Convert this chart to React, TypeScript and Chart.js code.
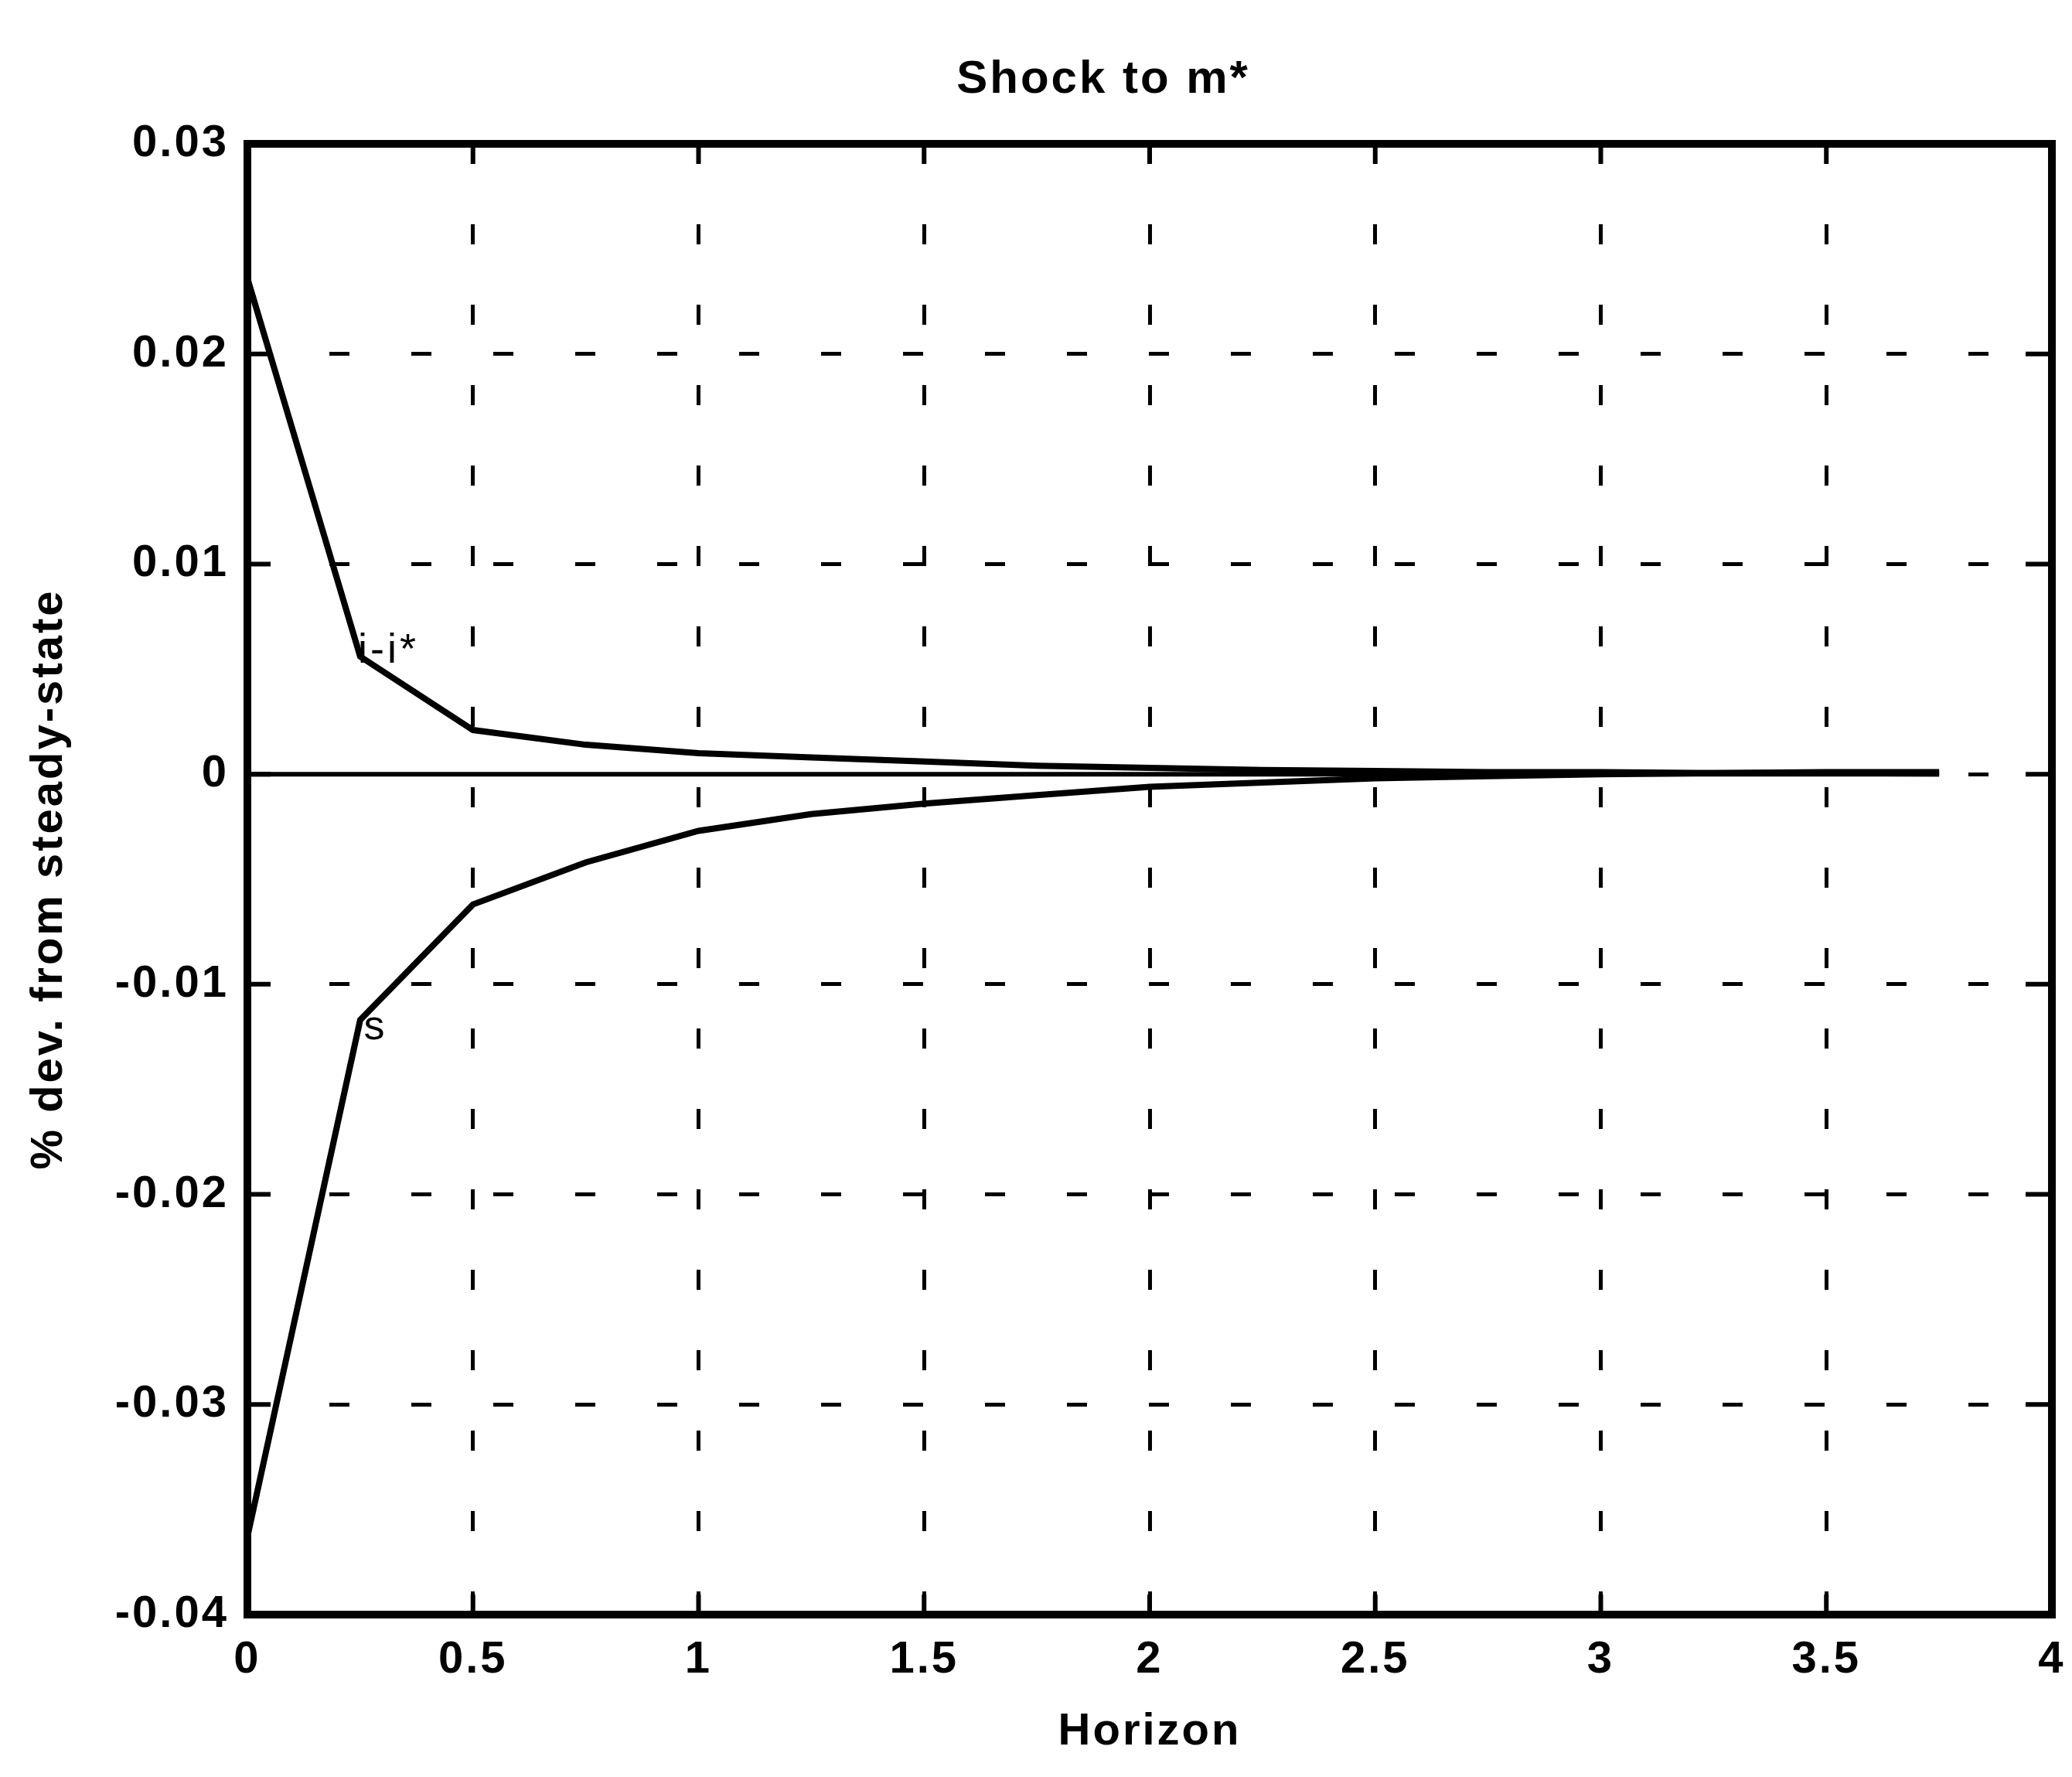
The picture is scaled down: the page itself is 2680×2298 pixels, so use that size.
import React, { useEffect, useRef } from 'react';
import { Chart, registerables } from 'chart.js';

Chart.register(...registerables);

// ---- data ----
const horizon = [0, 0.25, 0.5, 0.75, 1, 1.25, 1.5, 1.75, 2, 2.25, 2.5, 2.75, 3, 3.25, 3.5, 3.75];
const interestDiff = [0.0236, 0.0056, 0.0021, 0.0014, 0.001, 0.0008, 0.0006, 0.0004, 0.0003, 0.0002, 0.00015, 0.0001, 0.0001, 0.00005, 0.00005, 0.00003];
const exchangeRate = [-0.0363, -0.0117, -0.0062, -0.0042, -0.0027, -0.0019, -0.0014, -0.001, -0.0006, -0.0004, -0.0002, -0.0001, 0, 0.00005, 0.0001, 0.0001];
const steadyState = [0, 0, 0, 0, 0, 0, 0, 0, 0, 0, 0, 0, 0, 0, 0, 0];

const xTickValues = [0, 0.5, 1, 1.5, 2, 2.5, 3, 3.5, 4];
const xTickLabels = ['0', '0.5', '1', '1.5', '2', '2.5', '3', '3.5', '4'];
const yTickValues = [-0.04, -0.03, -0.02, -0.01, 0, 0.01, 0.02, 0.03];
const yTickLabels = ['-0.04', '-0.03', '-0.02', '-0.01', '0', '0.01', '0.02', '0.03'];

const titleText = 'Shock to m*';
const xTitle = 'Horizon';
const yTitle = '% dev. from steady-state';
const seriesLabels = ['i-i*', 's'];
const seriesLabelPos = [
  [0.245, 0.0053],
  [0.258, -0.0126],
];

const FONT = '"Liberation Sans", Arial, sans-serif';

const framePlugin = {
  id: 'frameAndText',
  beforeDraw(chart: any) {
    chart.ctx.letterSpacing = '3px';
  },
  afterDraw(chart: any) {
    const { ctx, chartArea, scales } = chart;
    const { left, right, top, bottom } = chartArea;
    const x = scales.x;
    const y = scales.y;
    ctx.save();
    ctx.strokeStyle = '#000';
    ctx.setLineDash([]);
    ctx.lineWidth = 10;
    ctx.strokeRect(left, top, right - left, bottom - top);
    ctx.lineWidth = 6;
    ctx.beginPath();
    for (const v of xTickValues) {
      const px = x.getPixelForValue(v);
      ctx.moveTo(px, bottom);
      ctx.lineTo(px, bottom - 26);
      ctx.moveTo(px, top);
      ctx.lineTo(px, top + 26);
    }
    for (const v of yTickValues) {
      const py = y.getPixelForValue(v);
      ctx.moveTo(left, py);
      ctx.lineTo(left + 30, py);
      ctx.moveTo(right, py);
      ctx.lineTo(right - 34, py);
    }
    ctx.stroke();

    ctx.fillStyle = '#000';
    ctx.letterSpacing = '3px';
    ctx.font = `bold 60px ${FONT}`;
    ctx.textAlign = 'center';
    ctx.textBaseline = 'alphabetic';
    ctx.fillText(titleText, chart.width * 0.5325, 120);

    ctx.font = `54px ${FONT}`;
    ctx.letterSpacing = '4px';
    ctx.textAlign = 'left';
    seriesLabels.forEach((t, i) => {
      const [vx, vy] = seriesLabelPos[i];
      ctx.fillText(t, x.getPixelForValue(vx), y.getPixelForValue(vy));
    });
    ctx.restore();
  },
};

export default function App() {
  const canvasRef = useRef<HTMLCanvasElement | null>(null);

  useEffect(() => {
    document.body.style.margin = '0';
    const canvas = canvasRef.current;
    if (!canvas) return;
    const toPoints = (arr: number[]) => horizon.map((h, i) => ({ x: h, y: arr[i] }));
    const chart = new Chart(canvas, {
      type: 'line',
      data: {
        datasets: [
          {
            label: 'steady state',
            data: toPoints(steadyState),
            borderColor: '#000',
            borderWidth: 6,
            pointRadius: 0,
            tension: 0,
          },
          {
            label: seriesLabels[0],
            data: toPoints(interestDiff),
            borderColor: '#000',
            borderWidth: 8,
            pointRadius: 0,
            tension: 0,
          },
          {
            label: seriesLabels[1],
            data: toPoints(exchangeRate),
            borderColor: '#000',
            borderWidth: 8,
            pointRadius: 0,
            tension: 0,
          },
        ],
      },
      options: {
        animation: false,
        responsive: false,
        maintainAspectRatio: false,
        layout: { padding: { left: 0, right: 26, top: 186, bottom: 0 } },
        plugins: {
          legend: { display: false },
          title: { display: false },
          tooltip: { enabled: false },
        },
        scales: {
          x: {
            type: 'linear',
            min: 0,
            max: 4,
            afterBuildTicks: (s: any) => {
              s.ticks = xTickValues.map((v) => ({ value: v }));
            },
            afterFit: (s: any) => {
              s.height = 210;
              s.paddingRight = 10;
              s.paddingLeft = 10;
            },
            ticks: {
              callback: (_v: any, i: number) => xTickLabels[i],
              color: '#000',
              font: { family: FONT, size: 58, weight: 'bold' },
              padding: 24,
              maxRotation: 0,
              autoSkip: false,
            },
            grid: {
              color: '#000',
              lineWidth: 5,
              drawTicks: false,
            },
            border: { display: false, dash: [26, 78] },
            title: {
              display: true,
              text: xTitle,
              color: '#000',
              font: { family: FONT, size: 58, weight: 'bold' },
              padding: { top: 0, bottom: 23 },
            },
          },
          y: {
            type: 'linear',
            min: -0.04,
            max: 0.03,
            afterBuildTicks: (s: any) => {
              s.ticks = yTickValues.map((v) => ({ value: v }));
            },
            afterFit: (s: any) => {
              s.width = 320;
            },
            ticks: {
              callback: (_v: any, i: number) => yTickLabels[i],
              color: '#000',
              font: { family: FONT, size: 58, weight: 'bold' },
              padding: 24,
              autoSkip: false,
            },
            grid: {
              color: '#000',
              lineWidth: 5,
              drawTicks: false,
            },
            border: { display: false, dash: [26, 80] },
            title: {
              display: true,
              text: yTitle,
              color: '#000',
              font: { family: FONT, size: 58, weight: 'bold' },
              padding: { top: 29, bottom: 0 },
            },
          },
        },
      },
      plugins: [framePlugin],
    } as any);
    return () => chart.destroy();
  }, []);

  return (
    <div style={{ width: 2680, height: 2298, background: '#fff' }}>
      <canvas ref={canvasRef} width={2680} height={2298} style={{ display: 'block', width: 2680, height: 2298 }} />
    </div>
  );
}
